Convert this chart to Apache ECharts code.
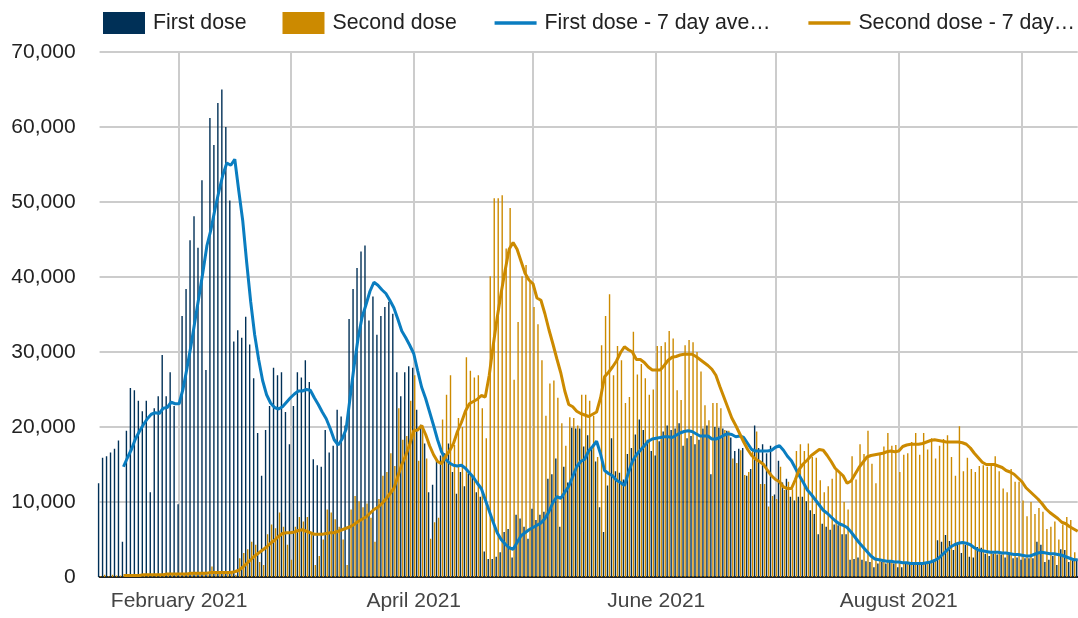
<!DOCTYPE html>
<html>
<head>
<meta charset="utf-8">
<title>Vaccinations</title>
<script src="https://cdn.jsdelivr.net/npm/echarts@6/dist/echarts.min.js"></script>
<style>
    html, body { margin: 0; padding: 0; background: #fff; }
    #div_chart { width: 1078px; height: 618px; }
</style>
</head>
<body>
<div id="div_chart"></div>
<script>
// daily values in thousands, one per day from 12 Jan 2021 to 15 Sep 2021
var startDate = '2021-01-12';
var dayCount = 247;

var firstDose = [
    12.5, 15.9, 16.1, 16.6, 17.1, 18.2, 4.7, 19.5, 25.2, 24.9, 23.5, 22.1, 23.5, 11.3, 22.5, 24.1, 29.6, 24.1, 27.3, 22.8,
    9.7, 34.8, 38.4, 44.9, 48.1, 43.9, 52.9, 27.6, 61.2, 57.6, 63.2, 65.0, 60.0, 50.2, 31.4, 32.9,
    31.9, 34.7, 31.0, 26.5, 19.2, 13.5, 19.6, 22.8, 27.9, 26.9, 27.3, 22.0, 17.7, 22.8, 27.3, 26.6, 28.9, 26.0, 15.7, 14.9,
    14.7, 19.6, 16.6, 17.5, 22.3, 21.4, 20.2, 34.4, 38.4, 41.2, 43.4, 44.2, 34.2, 37.4, 32.3, 34.8,
    36.0, 36.7, 35.1, 27.3, 24.1, 27.3, 28.1, 27.9, 22.3, 20.3, 17.8, 11.3, 12.3, 15.5, 16.2, 16.5, 17.8, 14.0, 11.1, 14.0,
    12.1, 13.8, 13.5, 11.3, 10.7, 3.4, 2.4, 2.4, 2.7, 3.3, 6.0, 6.4, 2.6, 8.3, 7.8, 6.7, 5.1,
    9.1, 7.6, 8.3, 8.7, 13.1, 13.7, 15.8, 6.7, 14.7, 12.6, 19.9, 19.8, 19.8, 17.4, 18.9, 17.1, 15.4, 9.3, 6.0, 12.2,
    18.5, 14.1, 13.9, 13.0, 16.4, 17.2, 19.0, 21.0, 19.6, 18.3, 16.8, 16.2, 18.1, 19.4, 20.2, 19.6,
    19.8, 20.5, 17.5, 18.5, 18.8, 17.7, 18.3, 19.8, 20.2, 13.7, 20.0, 19.9, 19.8, 19.5, 18.6, 16.8, 17.1, 17.2, 13.5, 14.4,
    20.2, 17.2, 17.7, 16.5, 17.5, 11.0, 15.5, 12.6, 13.1, 10.7, 10.2, 10.7, 10.7, 10.1, 8.9, 8.4, 5.7,
    7.1, 6.7, 6.3, 7.0, 6.9, 5.7, 5.7, 2.3, 2.4, 2.6, 2.3, 2.1, 2.0, 1.3, 1.8, 2.0, 1.8, 2.0, 1.8, 1.3,
    1.3, 1.8, 1.8, 1.8, 1.8, 1.8, 2.0, 2.0, 2.3, 4.9, 4.7, 5.6, 4.8, 3.6, 4.3,
    3.2, 4.3, 2.7, 2.6, 4.0, 3.9, 3.1, 2.8, 3.1, 3.0, 3.0, 2.6, 3.1, 2.5, 2.6, 2.3, 2.5, 2.5, 2.5, 4.7,
    4.3, 2.0, 2.3, 2.8, 1.6, 3.7, 3.6, 2.0, 2.2, 2.4
];

var secondDose = [
    0.1, 0.3, 0.1, 0.3, 0.2, 0.2, 0.1, 0.3, 0.3, 0.3, 0.3, 0.3, 0.4, 0.1, 0.4, 0.4, 0.4, 0.5, 0.4, 0.4,
    0.2, 0.5, 0.5, 0.6, 0.5, 0.6, 0.6, 0.3, 1.4, 0.7, 0.6, 0.6, 0.6, 0.5, 0.3,
    2.5, 3.2, 3.7, 4.7, 4.3, 2.0, 1.6, 5.7, 7.0, 6.5, 8.6, 6.7, 4.3, 2.3, 6.7, 8.0, 7.4, 8.0, 5.8, 1.6,
    2.8, 5.0, 9.0, 8.6, 7.7, 6.7, 5.0, 1.6, 9.0, 10.8, 10.1, 9.3, 9.8, 7.9, 4.7, 10.4, 13.5,
    14.0, 16.5, 14.8, 22.5, 18.3, 18.8, 23.5, 26.9, 15.5, 20.2, 15.8, 5.1, 7.3, 7.9, 21.0, 24.3, 26.9, 17.6, 21.2, 20.0,
    29.3, 27.5, 26.6, 26.9, 22.5, 18.5, 40.1, 50.5, 50.5, 50.9, 43.8, 49.2, 26.3, 34.0, 40.1, 41.6, 39.4,
    36.0, 33.7, 28.9, 21.5, 25.8, 26.2, 23.9, 20.5, 17.5, 21.3, 21.2, 20.2, 24.3, 24.3, 23.5, 21.5, 16.0, 30.9, 34.8, 37.7,
    26.9, 30.8, 28.9, 23.2, 24.0, 32.7, 27.0, 28.4, 26.5, 24.3, 25.0, 30.8, 30.8, 31.3, 32.8, 31.8,
    24.9, 23.6, 30.9, 31.6, 31.3, 30.0, 27.4, 22.9, 20.9, 23.2, 23.2, 22.5, 19.6, 19.5, 15.8, 15.2, 16.9, 13.6, 14.0, 17.0,
    19.4, 12.4, 12.4, 9.4, 10.8, 10.4, 14.7, 11.6, 12.7, 11.7, 16.8, 17.7, 16.8, 17.8, 16.0, 15.9, 12.9,
    11.3, 12.1, 13.1, 14.4, 13.8, 10.0, 9.0, 16.1, 13.0, 17.7, 16.4, 19.5, 15.1, 12.5, 16.3, 17.4, 19.2, 17.5, 17.6, 14.0,
    16.3, 16.5, 18.0, 19.2, 16.3, 19.2, 17.0, 18.5, 15.8, 17.5, 18.4, 18.9, 16.0, 13.5, 20.1,
    14.1, 15.9, 14.4, 14.0, 14.8, 14.9, 14.7, 15.0, 16.1, 14.1, 11.8, 11.3, 14.4, 12.7, 12.7, 10.2, 8.1, 10.0, 8.4, 9.2,
    8.7, 6.4, 6.7, 7.4, 5.0, 7.0, 8.0, 7.6, 3.3, 5.0
];

// 7 day averages as drawn (no value for the first six days)
var firstDoseAvg = [
    null, null, null, null, null, null,
    14.7, 15.9, 17.0, 18.4, 19.4, 20.3, 21.1, 21.7, 21.9, 21.8, 22.5, 22.6, 23.3, 23.1, 23.1, 25.1, 27.9, 30.9, 34.2, 37.4,
    40.7, 44.2, 46.3, 49.0, 51.4, 53.6, 55.2, 54.9, 55.7, 51.5,
    47.5, 41.9, 36.7, 32.3, 29.0, 26.2, 24.3, 23.2, 22.6, 22.4, 22.7, 23.3, 23.9, 24.4, 24.8, 24.8, 25.0, 24.9, 23.9, 23.0,
    22.0, 21.1, 19.8, 18.3, 17.6, 18.4, 19.7, 23.9, 28.1, 31.8, 34.6, 36.3, 38.1, 39.3, 38.9, 38.3,
    37.8, 36.9, 35.9, 34.4, 32.8, 31.9, 30.9, 29.8, 27.5, 25.3, 23.8, 22.0, 20.2, 18.3, 16.7, 15.7, 15.2, 14.9, 14.8, 14.9,
    14.5, 13.9, 13.3, 12.5, 11.8, 10.3, 8.8, 7.3, 5.9, 5.0, 4.4, 3.9, 3.7, 4.6, 5.5, 5.9, 6.3,
    6.6, 6.9, 7.2, 7.8, 8.7, 9.9, 10.7, 10.5, 11.3, 12.1, 13.4, 14.7, 15.4, 15.7, 16.8, 17.4, 18.1, 16.4, 14.2, 13.8,
    13.5, 12.9, 12.6, 12.2, 13.9, 15.4, 16.3, 16.9, 17.5, 18.1, 18.4, 18.5, 18.6, 18.7, 18.7, 18.6,
    18.9, 19.2, 19.4, 19.5, 19.4, 19.1, 18.8, 18.8, 18.8, 18.4, 18.4, 18.6, 18.9, 19.1, 19.0, 18.7, 18.8, 18.6, 17.8, 17.0,
    16.8, 16.8, 16.8, 16.8, 16.9, 17.3, 17.5, 16.9, 16.1, 15.5, 14.5, 13.5, 12.6, 11.6, 11.0, 10.3, 9.6,
    8.9, 8.5, 8.0, 7.5, 7.1, 6.9, 6.6, 6.0, 5.3, 4.6, 4.0, 3.4, 2.8, 2.4, 2.3, 2.2, 2.1, 2.1, 2.0, 2.0,
    1.9, 1.9, 1.8, 1.8, 1.8, 1.8, 1.9, 2.0, 2.2, 2.5, 3.0, 3.5, 4.0, 4.3, 4.5,
    4.6, 4.5, 4.3, 3.9, 3.6, 3.5, 3.4, 3.3, 3.3, 3.3, 3.2, 3.2, 3.1, 3.0, 3.0, 2.9, 2.8, 2.8, 3.0, 3.2,
    3.3, 3.2, 3.1, 3.1, 3.0, 2.9, 2.7, 2.5, 2.3, 2.3
];

var secondDoseAvg = [
    null, null, null, null, null, null,
    0.2, 0.2, 0.2, 0.2, 0.2, 0.3, 0.3, 0.3, 0.3, 0.3, 0.3, 0.4, 0.4, 0.4, 0.4, 0.4, 0.4, 0.5, 0.5, 0.5,
    0.5, 0.5, 0.6, 0.6, 0.6, 0.6, 0.6, 0.6, 0.7,
    0.9, 1.3, 1.8, 2.3, 2.8, 3.2, 3.6, 4.0, 4.5, 4.9, 5.4, 5.8, 5.9, 5.9, 6.0, 6.2, 6.3, 6.1, 5.9, 5.7,
    5.7, 5.7, 5.8, 5.9, 5.9, 6.1, 6.3, 6.5, 6.7, 7.0, 7.4, 7.7, 8.0, 8.5, 9.0, 9.3, 9.8,
    10.4, 11.1, 11.8, 13.4, 15.0, 16.2, 17.7, 19.5, 19.6, 20.2, 19.0, 17.5, 16.3, 15.4, 15.1, 16.1, 16.8, 17.8, 19.4, 20.6,
    22.1, 23.1, 23.4, 23.7, 24.2, 24.0, 26.9, 30.9, 34.6, 37.9, 40.9, 43.7, 44.6, 43.7, 42.1, 40.5, 39.6,
    39.1, 37.2, 36.9, 35.1, 33.0, 31.1, 29.1, 27.2, 24.8, 23.0, 22.7, 22.1, 21.8, 21.6, 21.4, 21.7, 22.0, 23.9, 26.7, 27.3,
    28.0, 28.8, 29.9, 30.7, 30.3, 30.0, 29.0, 29.0, 28.6, 28.0, 27.6, 27.6, 27.6, 28.2, 28.9, 29.3,
    29.4, 29.6, 29.7, 29.7, 29.7, 29.4, 29.0, 28.6, 28.2, 27.7, 26.9, 25.4, 24.0, 22.6, 21.2, 20.2, 19.1, 18.0, 17.0, 16.2,
    15.7, 15.4, 15.0, 14.2, 13.5, 13.0, 12.7, 12.0, 11.8, 11.8, 13.0, 14.4, 15.1, 15.6, 16.2, 16.6, 17.0,
    16.9, 16.2, 15.4, 14.5, 14.0, 13.5, 12.5, 12.8, 13.7, 14.6, 15.3, 16.0, 16.2, 16.3, 16.4, 16.5, 16.7, 16.8, 16.7, 16.8,
    17.4, 17.6, 17.7, 17.7, 17.7, 17.8, 18.0, 18.2, 18.3, 18.2, 18.1, 18.0, 18.0, 18.0, 18.0,
    17.9, 17.7, 17.2, 16.5, 15.9, 15.3, 15.0, 15.0, 15.0, 14.8, 14.6, 14.2, 14.0, 13.7, 13.2, 12.7, 11.9, 11.4, 10.9, 10.4,
    9.8, 9.1, 8.6, 8.2, 7.8, 7.3, 7.1, 6.7, 6.4, 6.1
];

var yTicks = [0, 10000, 20000, 30000, 40000, 50000, 60000, 70000];
var labelMonths = [1, 3, 5, 7]; // February, April, June, August
var monthNames = ['January', 'February', 'March', 'April', 'May', 'June', 'July',
    'August', 'September', 'October', 'November', 'December'];

var FONT = '"Liberation Sans", Arial, sans-serif';

function buildDates() {
    var list = [];
    var d = new Date(startDate + 'T00:00:00Z');
    for (var i = 0; i < dayCount; i++) {
        list.push(d.toISOString().substring(0, 10));
        d.setUTCDate(d.getUTCDate() + 1);
    }
    return list;
}

function toDoses(arr) {
    return arr.map(function (v) { return v == null ? null : Math.round(v * 1000); });
}

var dates = buildDates();

function isMonthStart(value) {
    return value.substring(8, 10) === '01';
}

var myChart = echarts.init(document.getElementById('div_chart'));

var option = {
    animation: false,
    backgroundColor: '#fff',
    legend: {
        left: 103,
        top: 12,
        padding: 0,
        itemWidth: 42,
        itemHeight: 22,
        itemGap: 36,
        textStyle: { fontFamily: FONT, fontSize: 21.3, color: '#222', padding: [0, 0, 0, 3] },
        data: [
            { name: 'First dose', icon: 'rect' },
            { name: 'Second dose', icon: 'rect' },
            {
                name: 'First dose - 7 day average',
                itemStyle: { opacity: 0 },
                lineStyle: { width: 3.5 },
                textStyle: { width: 231, overflow: 'truncate', ellipsis: '…' }
            },
            {
                name: 'Second dose - 7 day average',
                itemStyle: { opacity: 0 },
                lineStyle: { width: 3.5 },
                textStyle: { width: 218, overflow: 'truncate', ellipsis: '…' }
            }
        ]
    },
    grid: {
        left: 99.6,
        top: 52,
        width: 978.1,
        height: 525,
        containLabel: false,
        outerBoundsMode: 'none'
    },
    xAxis: {
        type: 'category',
        data: dates,
        boundaryGap: false,
        axisLine: { show: true, lineStyle: { color: '#222', width: 2 } },
        axisTick: { show: false },
        splitLine: {
            show: true,
            interval: function (index, value) { return isMonthStart(value); },
            lineStyle: { color: '#cccccc', width: 2 }
        },
        axisLabel: {
            interval: function (index, value) {
                return isMonthStart(value) && labelMonths.indexOf(+value.substring(5, 7) - 1) >= 0;
            },
            formatter: function (value) {
                return monthNames[+value.substring(5, 7) - 1] + ' ' + value.substring(0, 4);
            },
            margin: 14,
            fontFamily: FONT,
            fontSize: 21,
            color: '#444'
        }
    },
    yAxis: {
        type: 'value',
        min: yTicks[0],
        max: yTicks[yTicks.length - 1],
        interval: 10000,
        axisLine: { show: false },
        axisTick: { show: false },
        splitLine: { lineStyle: { color: '#cccccc', width: 2 } },
        axisLabel: {
            margin: 24,
            fontFamily: FONT,
            fontSize: 21,
            color: '#222',
            formatter: function (v) { return v.toLocaleString('en-US'); }
        }
    },
    series: [
        {
            name: 'First dose',
            type: 'bar',
            data: toDoses(firstDose),
            barWidth: 1.4,
            barGap: '45%',
            clip: false,
            itemStyle: { color: '#003057' }
        },
        {
            name: 'Second dose',
            type: 'bar',
            data: toDoses(secondDose),
            barWidth: 1.4,
            barGap: '45%',
            clip: false,
            itemStyle: { color: '#cc8a00' }
        },
        {
            name: 'First dose - 7 day average',
            type: 'line',
            data: toDoses(firstDoseAvg),
            symbol: 'none',
            lineStyle: { color: '#0a7dc0', width: 3 },
            itemStyle: { color: '#0a7dc0' }
        },
        {
            name: 'Second dose - 7 day average',
            type: 'line',
            data: toDoses(secondDoseAvg),
            symbol: 'none',
            lineStyle: { color: '#cc8a00', width: 3 },
            itemStyle: { color: '#cc8a00' }
        }
    ]
};

myChart.setOption(option);
</script>
</body>
</html>
